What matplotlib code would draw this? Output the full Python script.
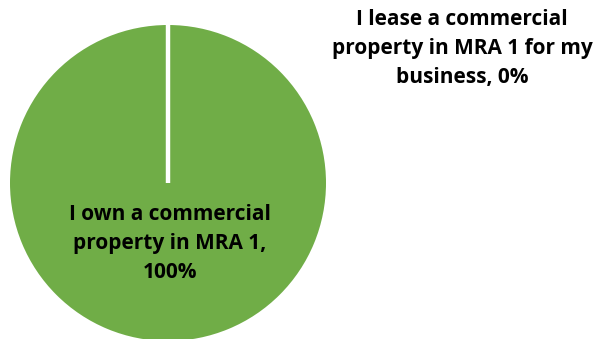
import matplotlib.pyplot as plt
import numpy as np

# data
labels = [
    "I own a commercial\nproperty in MRA 1,\n100%",
    "I lease a commercial\nproperty in MRA 1 for my\nbusiness, 0%",
]
values = [100, 0]
colors = ["#70AD47", "#4472C4"]

plt.rcParams["font.family"] = ["Open Sans", "DejaVu Sans"]

fig = plt.figure(figsize=(5.97, 3.39), dpi=100)

# pie centre at (168, 183) px, radius 158 px
ax = fig.add_axes([10 / 597, (339 - 183 - 158) / 339, 316 / 597, 316 / 339])

wedges, _ = ax.pie(
    values,
    colors=colors,
    startangle=90,
    counterclock=False,
    radius=1,
    wedgeprops=dict(edgecolor="none"),
)

# slice boundaries (white separators)
bounds = np.cumsum([0] + values)
for b in bounds:
    ang = np.deg2rad(90 - 360 * b / sum(values))
    ax.plot([0, np.cos(ang)], [0, np.sin(ang)], color="white", lw=3,
            solid_capstyle="butt", zorder=3)

ax.set_xlim(-1, 1)
ax.set_ylim(-1, 1)
ax.set_aspect("equal")
ax.axis("off")

ax.text(0.013, -0.38, labels[0], ha="center", va="center",
        fontsize=15, fontweight="bold", linespacing=1.5, color="black")
ax.text(1.861, 0.854, labels[1], ha="center", va="center",
        fontsize=15, fontweight="bold", linespacing=1.5, color="black")

fig.savefig("out.png", dpi=100)
